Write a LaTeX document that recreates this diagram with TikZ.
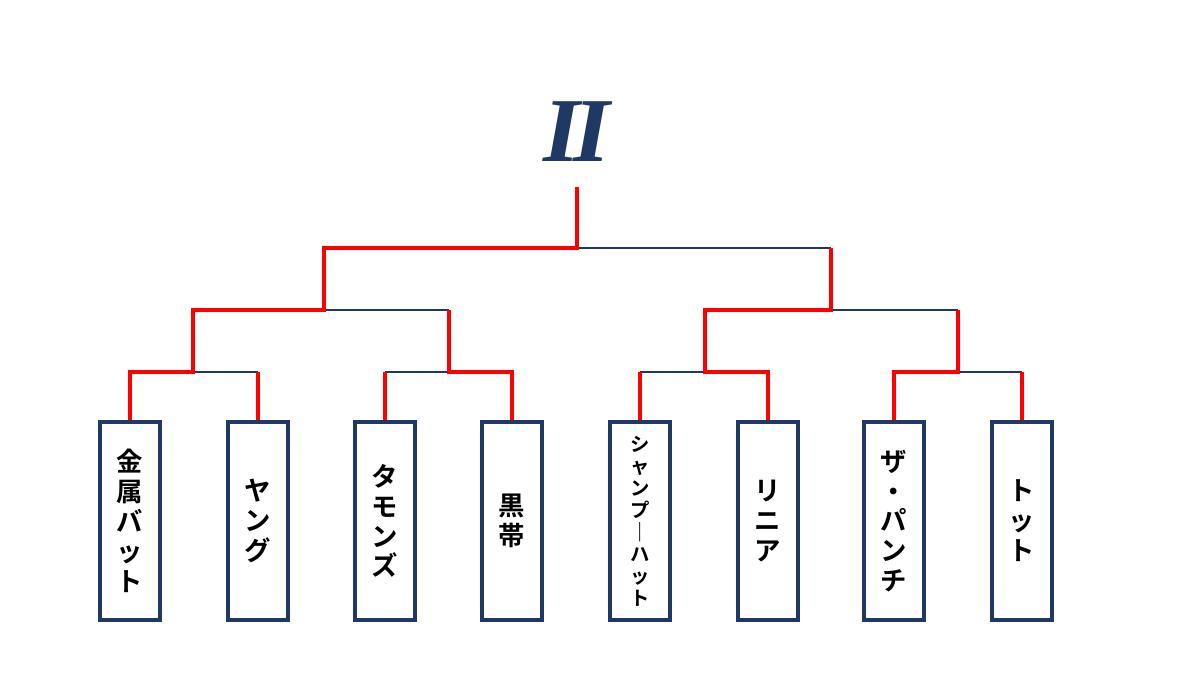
\documentclass[tikz,border=0pt]{standalone}
\usepackage{fontspec}
\newfontfamily\jpfont{Noto Sans CJK JP Bold}
\newfontfamily\numfont{Liberation Serif}
\usetikzlibrary{positioning}
\definecolor{navy}{HTML}{1F3864}
\tikzset{
  entry/.style={draw=navy, line width=2pt, minimum width=1.2cm, minimum height=3.96cm,
    inner sep=0pt, font=\jpfont\fontsize{15}{17}\selectfont, align=center},
  win/.style={red, line width=2.8pt},
  lose/.style={navy, line width=0.9pt}
}
\begin{document}
\begin{tikzpicture}[x=0.02cm,y=-0.02cm]
    \useasboundingbox (0,0) rectangle (1200,674);
    \node[text=navy, font=\numfont\bfseries\fontsize{52}{54}\selectfont, xslant=0.18] (title) at (578,132) {I\kern-0.06em I};
    \coordinate (top) at (577,187);

    \node[entry] (b1) at (130,521) {金\\属\\バ\\ッ\\ト};
    \node[entry] (b2) at (258,521) {ヤ\\ン\\グ};
    \node[entry] (b3) at (385,521) {タ\\モ\\ン\\ズ};
    \node[entry] (b4) at (512,521) {黒\\帯};
    \node[entry, font=\jpfont\fontsize{11}{12.5}\selectfont] (b5) at (640,521) {シ\\ャ\\ン\\プ\\｜\\ハ\\ッ\\ト};
    \node[entry] (b6) at (768,521) {リ\\ニ\\ア};
    \node[entry] (b7) at (894,521) {ザ\\・\\パ\\ン\\チ};
    \node[entry] (b8) at (1022,521) {ト\\ッ\\ト};

    % first round
    \coordinate (r1) at (193,372);
    \coordinate (r2) at (449,372);
    \coordinate (r3) at (705,372);
    \coordinate (r4) at (958,372);
    % second round
    \coordinate (q1) at (324,310);
    \coordinate (q2) at (831,310);
    % final
    \coordinate (f) at (577,248);

    \draw[lose] (r1) -- (r1 -| b2.north);
    \draw[lose] (r2) -- (r2 -| b3.north);
    \draw[lose] (r3) -- (r3 -| b5.north);
    \draw[lose] (r4) -- (r4 -| b8.north);
    \draw[lose] (q1) -- (q1 -| r2);
    \draw[lose] (q2) -- (q2 -| r4);
    \draw[lose] (f) -- (f -| q2);

    \draw[win] (b1.north) |- (r1) |- (q1) |- (f) -- (top);
    \draw[win] (b2.north) -- (b2.north |- r1);
    \draw[win] (b3.north) -- (b3.north |- r2);
    \draw[win] (b4.north) |- (r2) -- (r2 |- q1);
    \draw[win] (b5.north) -- (b5.north |- r3);
    \draw[win] (b6.north) |- (r3) |- (q2) -- (q2 |- f);
    \draw[win] (b7.north) |- (r4) -- (r4 |- q2);
    \draw[win] (b8.north) -- (b8.north |- r4);
\end{tikzpicture}
\end{document}
